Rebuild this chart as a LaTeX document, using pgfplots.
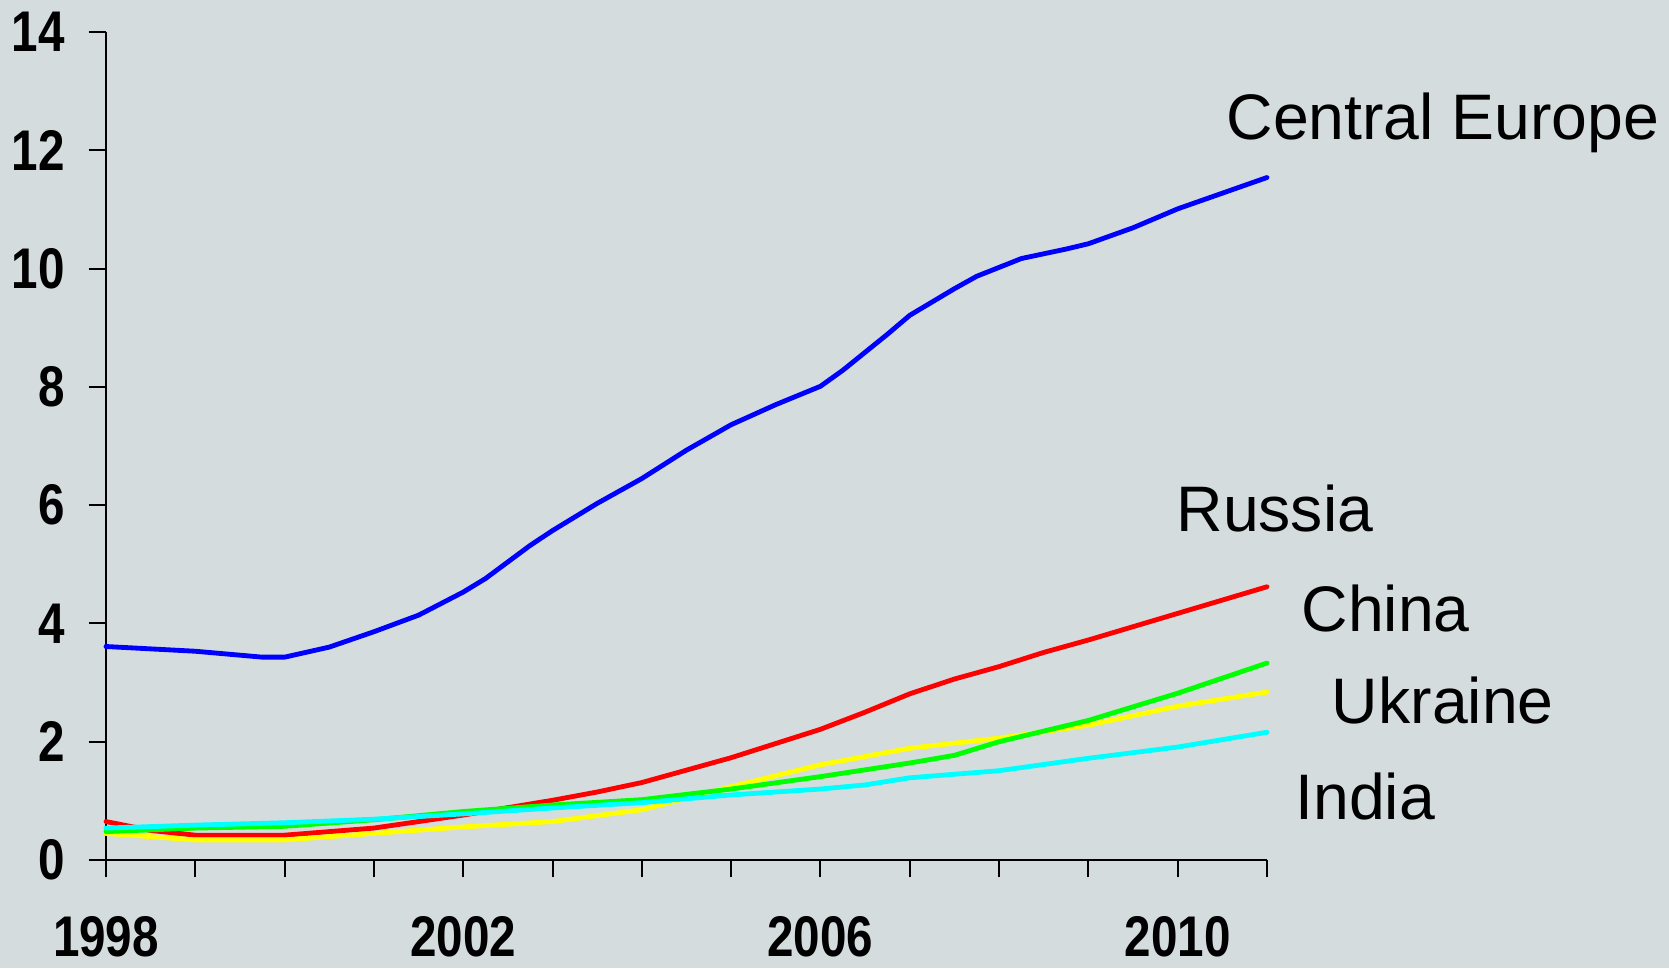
\documentclass[border=0pt]{standalone}
\usepackage{pgfplots}
\pgfplotsset{compat=1.18}
\usepackage{fontspec}
\setmainfont{Liberation Sans}
\newfontfamily\narrowfont[FakeStretch=0.83]{Liberation Sans}
\definecolor{bgc}{RGB}{212,220,222}
\definecolor{cblue}{RGB}{0,0,255}
\definecolor{cred}{RGB}{255,0,0}
\definecolor{cyellow}{RGB}{255,255,0}
\definecolor{cgreen}{RGB}{0,255,0}
\definecolor{ccyan}{RGB}{0,255,255}
\begin{document}
\begin{tikzpicture}
\fill[bgc] (-31.8pt,-32.4pt) rectangle (468.9pt,258pt);
\begin{axis}[
    at={(0pt,0pt)}, anchor=south west,
    scale only axis,
    width=348.3pt, height=248.4pt,
    xmin=1998, xmax=2011,
    ymin=0, ymax=14,
    axis lines*=left,
    axis line style={line width=0.6pt},
    clip=false,
    xtick={1998,2002,2006,2010},
    xticklabels={1998,2002,2006,2010},
    minor xtick={1999,2000,2001,2003,2004,2005,2007,2008,2009,2011},
    ytick={0,2,...,14},
    tick align=outside,
    major tick length=5.2pt,
    minor tick length=5.2pt,
    tick style={line width=0.6pt, black},
    ticklabel style={font=\narrowfont\bfseries\fontsize{17.2}{17.2}\selectfont},
    /pgf/number format/assume math mode=true,
    yticklabel style={anchor=east, inner sep=0pt, xshift=-7pt},
    xticklabel style={anchor=north, inner sep=0pt, yshift=-11.5pt},
    every axis plot/.append style={line width=1.45pt, line cap=round, line join=round},
]
% Central Europe
\addplot[color=cblue] coordinates {
(1998,3.61)(1999,3.53)(1999.75,3.43)(2000,3.43)(2000.5,3.60)(2001,3.86)(2001.5,4.14)(2002,4.53)(2002.25,4.76)(2002.75,5.32)(2003,5.57)(2003.5,6.03)(2004,6.45)(2004.5,6.93)(2005,7.36)(2005.5,7.70)(2006,8.01)(2006.25,8.28)(2006.75,8.89)(2007,9.21)(2007.5,9.66)(2007.75,9.87)(2008.25,10.17)(2008.75,10.33)(2009,10.42)(2009.5,10.69)(2010,11.01)(2011,11.54)
};
% red
\addplot[color=cred] coordinates {
(1998,0.65)(1998.5,0.50)(1999,0.42)(2000,0.42)(2001,0.54)(2002,0.76)(2003,1.01)(2003.5,1.15)(2004,1.31)(2005,1.73)(2006,2.21)(2006.5,2.50)(2007,2.81)(2007.5,3.06)(2008,3.27)(2008.5,3.51)(2009,3.72)(2010,4.17)(2011,4.62)
};
% yellow
\addplot[color=cyellow] coordinates {
(1998,0.45)(1999,0.34)(2000,0.34)(2001,0.45)(2002,0.56)(2003,0.65)(2004,0.85)(2005,1.24)(2006,1.61)(2007,1.89)(2008,2.06)(2009,2.28)(2010,2.60)(2011,2.84)
};
% green
\addplot[color=cgreen] coordinates {
(1998,0.48)(1999,0.54)(2000,0.57)(2001,0.68)(2002,0.82)(2003,0.93)(2004,1.02)(2005,1.20)(2006,1.41)(2007,1.64)(2007.5,1.77)(2008,2.00)(2009,2.36)(2010,2.82)(2011,3.33)
};
% cyan
\addplot[color=ccyan] coordinates {
(1998,0.54)(1999,0.59)(2000,0.63)(2001,0.69)(2002,0.78)(2003,0.88)(2004,0.97)(2005,1.10)(2006,1.20)(2006.5,1.27)(2007,1.39)(2008,1.51)(2009,1.72)(2010,1.91)(2011,2.16)
};
\begin{scope}[every node/.style={anchor=base west, inner sep=0pt, font=\fontsize{19.3}{19.3}\selectfont}]
\node at (axis cs:2010.54,12.19) {Central Europe};
\node at (axis cs:2009.98,5.55) {Russia};
\node at (axis cs:2011.38,3.87) {China};
\node at (axis cs:2011.72,2.30) {Ukraine};
\node at (axis cs:2011.31,0.68) {India};
\end{scope}
\end{axis}
\pgfresetboundingbox
\path[use as bounding box] (-31.8pt,-32.4pt) rectangle (468.9pt,258pt);
\end{tikzpicture}
\end{document}
